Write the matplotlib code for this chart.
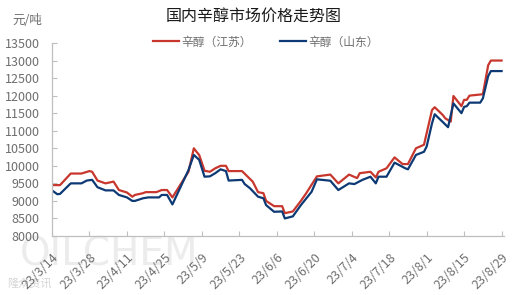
import pandas as pd
import matplotlib.pyplot as plt

plt.rcParams['font.family'] = ['Noto Sans CJK SC', 'DejaVu Sans']

# Data (yuan/ton)
js_dates = ['03-14', '03-17', '03-21', '03-25', '03-28', '03-29', '03-31', '04-03', '04-06', '04-08',
            '04-11', '04-13', '04-14', '04-17', '04-18', '04-22', '04-24', '04-26', '04-28', '05-04',
            '05-06', '05-07', '05-08', '05-10', '05-12', '05-14', '05-16', '05-18', '05-19', '05-24',
            '05-26', '05-28', '05-30', '06-01', '06-02', '06-05', '06-08', '06-09', '06-12', '06-15',
            '06-17', '06-21', '06-26', '06-29', '07-03', '07-06', '07-07', '07-11', '07-13', '07-14',
            '07-17', '07-20', '07-23', '07-25', '07-28', '07-31', '08-03', '08-04', '08-07', '08-08',
            '08-10', '08-11', '08-14', '08-15', '08-16', '08-17', '08-22', '08-24', '08-25', '08-29']
js_values = [9450, 9450, 9780, 9780, 9850, 9830, 9580, 9500, 9550, 9310,
             9240, 9120, 9170, 9220, 9250, 9250, 9310, 9310, 9100, 9830,
             10500, 10400, 10310, 9860, 9830, 9930, 10000, 10000, 9850, 9850,
             9700, 9550, 9250, 9220, 9000, 8850, 8850, 8650, 8700, 9000,
             9220, 9700, 9750, 9500, 9750, 9650, 9790, 9830, 9670, 9830,
             9930, 10240, 10050, 10050, 10500, 10600, 11590, 11670, 11450, 11350,
             11260, 11990, 11700, 11880, 11880, 12000, 12040, 12870, 13000, 13000]

sd_dates = ['03-14', '03-16', '03-17', '03-21', '03-25', '03-27', '03-29', '03-31', '04-03', '04-06',
            '04-08', '04-11', '04-13', '04-14', '04-17', '04-19', '04-23', '04-24', '04-26', '04-28',
            '05-04', '05-06', '05-08', '05-10', '05-12', '05-14', '05-16', '05-18', '05-19', '05-24',
            '05-25', '05-27', '05-30', '06-01', '06-02', '06-05', '06-08', '06-09', '06-12', '06-15',
            '06-19', '06-21', '06-26', '06-29', '07-03', '07-05', '07-08', '07-11', '07-13', '07-14',
            '07-17', '07-20', '07-24', '07-25', '07-28', '07-31', '08-01', '08-03', '08-04', '08-07',
            '08-09', '08-11', '08-14', '08-15', '08-16', '08-17', '08-21', '08-22', '08-24', '08-25',
            '08-29']
sd_values = [9300, 9190, 9200, 9500, 9500, 9580, 9600, 9390, 9300, 9300,
             9170, 9100, 9000, 9000, 9075, 9100, 9100, 9170, 9170, 8900,
             9880, 10310, 10170, 9690, 9700, 9790, 9900, 9850, 9580, 9600,
             9480, 9360, 9120, 9075, 8880, 8690, 8700, 8500, 8560, 8880,
             9260, 9615, 9575, 9310, 9500, 9480, 9600, 9690, 9500, 9690,
             9690, 10090, 9930, 9900, 10310, 10400, 10550, 11210, 11470, 11250,
             11100, 11780, 11500, 11680, 11700, 11800, 11800, 11920, 12560, 12700,
             12700]

js_dates = pd.to_datetime(['2023-' + d for d in js_dates])
sd_dates = pd.to_datetime(['2023-' + d for d in sd_dates])

tick_dates = pd.date_range('2023-03-14', '2023-08-29', freq='14D')
tick_labels = [f'23/{d.month}/{d.day}' for d in tick_dates]
y_ticks = list(range(8000, 13501, 500))

grey = '#6e6e6e'

fig = plt.figure(figsize=(5.22, 2.95), dpi=100)
ax = fig.add_axes([52 / 522, 1 - 236 / 295, (504 - 52) / 522, (236 - 43) / 295])
ax.patch.set_alpha(0)

ax.plot(js_dates, js_values, color='#c8372d', lw=1.6, label='辛醇（江苏）')
ax.plot(sd_dates, sd_values, color='#0d3a75', lw=1.6, label='辛醇（山东）')

ax.set_xlim(pd.Timestamp('2023-03-14'), pd.Timestamp('2023-08-29') + pd.Timedelta(days=0.9))
ax.set_ylim(8000, 13500)
ax.set_xticks(tick_dates)
ax.set_xticklabels(tick_labels, rotation=45, ha='right', rotation_mode='anchor')
ax.set_yticks(y_ticks)

for s in ['top', 'right']:
    ax.spines[s].set_visible(False)
for s in ['left', 'bottom']:
    ax.spines[s].set_color('#bfbfbf')
    ax.spines[s].set_linewidth(0.9)
ax.tick_params(axis='both', direction='in', length=3.5, color='#bfbfbf', labelcolor=grey, labelsize=9)
ax.tick_params(axis='x', pad=11)
ax.tick_params(axis='y', pad=9)

fig.text(254 / 522, 1 - 17 / 295, '国内辛醇市场价格走势图', ha='center', va='center',
         fontsize=11.5, color='#1a1a1a')
fig.text(27 / 522, 1 - 21 / 295, '元/吨', ha='center', va='center', fontsize=9, color=grey)

fig.legend(loc='center', bbox_to_anchor=(266 / 522, 1 - 42 / 295), ncol=2, frameon=False,
           fontsize=8.5, handlelength=2.2, handletextpad=0.2, columnspacing=2.4,
           labelcolor=grey)

# watermark
fig.text(20 / 522, 1 - 254 / 295, 'OILCHEM', ha='left', va='center', fontsize=28,
         color='#ececec', family='DejaVu Sans', zorder=-1)
fig.text(7 / 522, 1 - 283 / 295, '隆众资讯', ha='left', va='center', fontsize=8,
         color='#d6d6d6', zorder=-1)

fig.savefig('out.png', dpi=100)
